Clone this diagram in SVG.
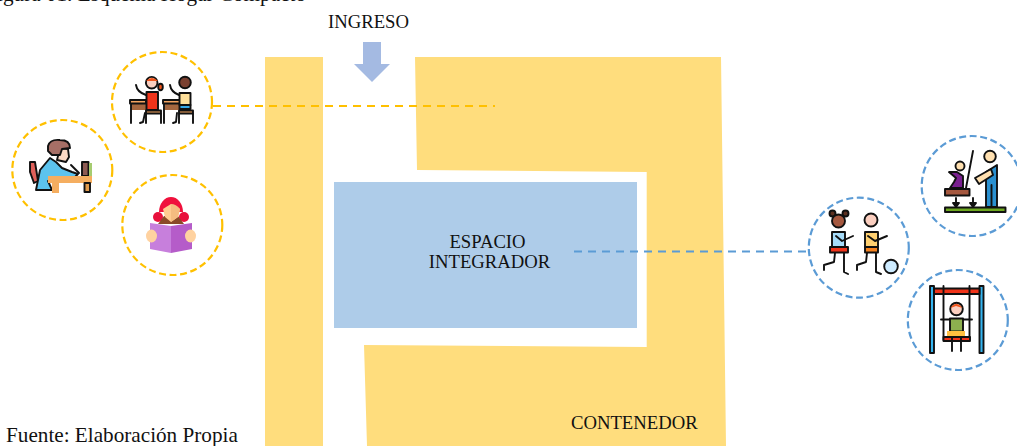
<svg xmlns="http://www.w3.org/2000/svg" width="1017" height="446" viewBox="0 0 1017 446">
<style>
text{font-family:"Liberation Serif","Times New Roman",serif;font-size:18.7px;fill:#111}
text.big{font-size:21.2px}
.zone{fill:#FFDD7D}
.cy{fill:#fff;stroke:#FFC000;stroke-width:2.2;stroke-dasharray:7 3.6}
.cb{fill:#fff;stroke:#5B9BD5;stroke-width:2.2;stroke-dasharray:7 3.6}
.ly{fill:none;stroke:#FFC000;stroke-width:2;stroke-dasharray:8 6}
.lb{fill:none;stroke:#5B9BD5;stroke-width:2;stroke-dasharray:8 6}
.k{stroke:#111;stroke-width:1.9;stroke-linejoin:round;stroke-linecap:round}
.l{fill:none;stroke:#111;stroke-width:1.9;stroke-linejoin:round;stroke-linecap:round}
.n{stroke:none}
</style>
<rect width="1017" height="446" fill="#fff"/>
<text id="title" class="big" x="306" y="1" text-anchor="end">Figura 01. Esquema Hogar Compacto</text>
<g id="zone-left"><rect class="zone" x="265" y="57" width="58" height="389"/></g>
<g id="zone-contenedor"><polygon class="zone" points="415,57 721,57 726,446 367,446 364,345 646.7,347 646.7,172 417,170"/>
<text x="571" y="429">CONTENEDOR</text></g>
<g id="espacio-integrador"><rect x="334" y="182" width="303" height="146" fill="#AECCE9"/>
<text x="487.5" y="247.7" text-anchor="middle">ESPACIO</text>
<text x="489.5" y="268.3" text-anchor="middle">INTEGRADOR</text></g>
<g id="ingreso"><text x="368.500" y="28.300" text-anchor="middle">INGRESO</text>
<polygon points="363,42 381,42 381,64 390,64 372,82 354,64 363,64" fill="#A4BAE2"/></g>
<g id="connectors">
<line class="ly" x1="213" y1="106" x2="495" y2="106"/>
<line class="lb" x1="574" y1="251.5" x2="808" y2="251.5"/>
</g>
<g id="node-desks"><circle class="cy" cx="162" cy="102" r="50"/>
<rect class="n" x="131" y="104" width="15" height="6" fill="#A5673F"/>
<rect class="k" x="130" y="100" width="16" height="3.500" fill="#F4A460"/>
<path class="l" d="M131 104V123M136 85Q137 92 146 95M145 113L143 122L140 123"/>
<rect class="k" x="146.500" y="92" width="11.500" height="18" fill="#F0341A"/>
<rect class="k" x="146" y="110.500" width="15" height="3" fill="#F4A460"/>
<path class="l" d="M146 114V123M161 114V123"/>
<ellipse class="k" cx="160.500" cy="87" rx="2.300" ry="3.200" fill="#F0541A"/>
<circle class="k" cx="151.700" cy="82.700" r="5.800" fill="#FBCFC0"/>
<path class="n" d="M146 81Q152 75 158 81L152 81Z" fill="#F0541A"/>
<rect class="n" x="165" y="104" width="15" height="6" fill="#A5673F"/>
<rect class="k" x="163" y="100" width="17" height="3.500" fill="#F4A460"/>
<path class="l" d="M164 104V123M170 85Q171 92 179 95M177 113L176 122L173 123"/>
<rect class="k" x="179.500" y="93" width="11" height="12" fill="#FFE09A"/>
<rect class="k" x="179.500" y="105" width="11" height="4" fill="#35A9E8"/>
<rect class="k" x="179" y="110.500" width="14" height="3" fill="#F4A460"/>
<path class="l" d="M179 114V123M193 114V123"/>
<circle class="k" cx="185" cy="82.500" r="5.800" fill="#7A4030"/>
</g>
<g id="node-writer"><circle class="cy" cx="62.300" cy="170" r="50"/>
<polygon class="k" points="30,162 35,162 38,181 34,183 30,172" fill="#E0605A"/>
<polygon class="k" points="36,190 40,170 50,158 56,162 62,168 72,172 78,174 72,180 48,181 52,190" fill="#5CC3EE"/>
<path class="k" d="M60 148L68 149L69 157L66 162L57 160Z" fill="#FBD9C5"/>
<path class="k" d="M48 146Q50 139 60 140Q70 140 70 148L62 149L60 155L52 155L48 151Z" fill="#A66F66"/>
<path class="l" d="M71 165L79 173"/>
<rect class="k" x="82" y="162" width="6.500" height="14" fill="#8D5A52"/>
<rect class="n" x="89" y="163" width="3" height="13" fill="#A6CC70"/>
<rect class="n" x="48" y="176" width="44" height="7" fill="#F5AE60"/>
<rect class="n" x="52" y="183" width="7" height="10" fill="#F5AE60"/>
<rect class="k" x="84.500" y="183" width="5.500" height="9" fill="#E09A4C"/>
</g>
<g id="node-reader"><circle class="cy" cx="172.300" cy="225" r="50"/>
<circle class="n" cx="158" cy="217" r="5" fill="#E8103C"/>
<circle class="n" cx="184" cy="217" r="5" fill="#E8103C"/>
<path class="n" d="M158 224L164 216H178L184 224Z" fill="#8A4A28"/>
<path class="n" d="M159 212A12 15 0 0 1 183 212Z" fill="#F0103C"/>
<path class="n" d="M163 209Q171 204 171 204Q171 204 180 209L178 217L171 222L165 217Z" fill="#FFCB90"/>
<path class="n" d="M171 204Q176 204 180 209L178 217L171 222Z" fill="#F5BC80"/>
<polygon class="n" points="150,223 171,226 171,253 150,249" fill="#C77FDC"/>
<polygon class="n" points="192,223 171,226 171,253 192,249" fill="#B55CC9"/>
<ellipse class="n" cx="151.500" cy="236" rx="5.500" ry="6.500" fill="#FFD2A0"/>
<ellipse class="n" cx="190.500" cy="236" rx="5.500" ry="6.500" fill="#FFD2A0"/>
</g>
<g id="node-teacher"><circle class="cb" cx="971.700" cy="186" r="50"/>
<rect class="k" x="945" y="207.500" width="60.500" height="4.500" fill="#6EA820"/>
<rect class="k" x="945" y="189" width="24.500" height="6.500" fill="#A5583F"/>
<path class="l" d="M973 151L966 188M956 198V203M973 198V203"/>
<path class="k" d="M953 203H959L956 207ZM970 203H976L973 207Z" fill="#111"/>
<circle class="k" cx="960" cy="166" r="4.500" fill="#FFE0B0"/>
<path class="k" d="M949 172L957 172L963 176V188H950L954 182L956 178Z" fill="#7A2090"/>
<path class="k" d="M986 207V172L997 165V207Z" fill="#2A90D0"/>
<path class="l" d="M991.500 185V207" stroke-width="1"/>
<path class="k" d="M975 178L991 169L993 175L979 184Z" fill="#FFE0B0"/>
<circle class="k" cx="990" cy="156.500" r="5.800" fill="#FFE0B0"/>
</g>
<g id="node-children"><circle class="cb" cx="858.800" cy="247.700" r="50"/>
<circle class="k" cx="832.500" cy="213.500" r="3" fill="#5C3020"/>
<circle class="k" cx="845.500" cy="213.500" r="3" fill="#5C3020"/>
<circle class="k" cx="838.500" cy="221" r="6.500" fill="#A5583F"/>
<rect class="k" x="832" y="232" width="13" height="15" fill="#A6DCFA"/>
<path class="l" d="M836 236L842 241L853 236M835 253L834 262L824 265V270M844 253V272L848 274"/>
<rect class="k" x="830" y="247" width="18" height="5.500" fill="#F0341A"/>
<circle class="k" cx="871" cy="220" r="6.500" fill="#FBCFC0"/>
<rect class="k" x="865" y="232" width="13" height="15" fill="#FFD070"/>
<path class="l" d="M868 236L875 241L887 236M867 253L866 262L857 265V270M876 253V272L881 274"/>
<rect class="k" x="865" y="247" width="13" height="5.500" fill="#F5821F"/>
<circle class="k" cx="891" cy="266.500" r="6.800" fill="#CDEBFF"/>
</g>
<g id="node-swing"><circle class="cb" cx="957.800" cy="320" r="50"/>
<rect class="k" x="930" y="286" width="4" height="67" fill="#35B5F0"/>
<rect class="k" x="979.500" y="286" width="4" height="67" fill="#35B5F0"/>
<rect class="k" x="934" y="288.500" width="45.500" height="5.500" fill="#F0341A"/>
<path class="l" d="M943.500 286V340M969.500 286V340M941 319.500H950M963 319.500H972"/>
<circle class="k" cx="956.500" cy="309" r="6.300" fill="#FBCFC0"/>
<path class="n" d="M950.500 308Q956 300 962.500 308L956 306Z" fill="#F0541A"/>
<rect class="k" x="950" y="318.500" width="13" height="13" fill="#8DB04F"/>
<rect class="n" x="947" y="331" width="18" height="6" fill="#FFC040"/>
<rect class="k" x="943.500" y="337" width="26.500" height="4" fill="#F0341A"/>
<path class="l" d="M952 337V351M961 337V351"/>
</g>
<text id="source" class="big" x="6" y="441.500">Fuente: Elaboración Propia</text>
</svg>
